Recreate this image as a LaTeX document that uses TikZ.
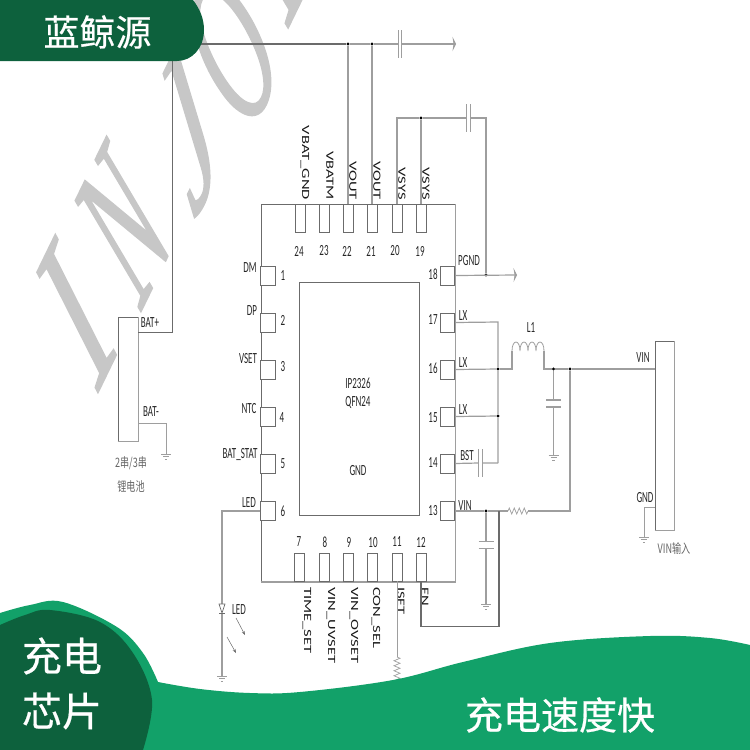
\documentclass[tikz,border=0pt]{standalone}
\usepackage{fontspec}
\usetikzlibrary{arrows.meta, decorations.pathmorphing}
\setmainfont{Carlito}
\newfontfamily\flatfont[FakeStretch=0.58]{Carlito}
\newfontfamily\longfont[FakeStretch=1.5]{Carlito}
\newfontfamily\markfont[ItalicFeatures={FakeBold=1.2}]{Liberation Serif}
\newfontfamily\cjk[FakeBold=0.5]{Noto Sans CJK SC}
\newfontfamily\cjksmall[FakeStretch=0.7]{Noto Sans CJK SC}
\definecolor{wiregray}{rgb}{0.62,0.62,0.62}
\definecolor{darkwire}{rgb}{0.42,0.42,0.42}
\definecolor{markgray}{rgb}{0.78,0.78,0.78}
\definecolor{midgreen}{rgb}{0.07,0.63,0.41}
\definecolor{deepgreen}{rgb}{0.05,0.38,0.24}
\tikzset{
    x=1pt, y=-1pt, % Same numbers as the pixels
    >=stealth,
    wire/.style={draw=wiregray, line width=1.2pt},
    box/.style={draw=darkwire, line width=0.8pt, fill=white, inner sep=0pt},
    edging/.style={draw=wiregray, line width=1.8pt},
    toppin/.style={box, minimum width=10pt, minimum height=28pt},
    sidepin/.style={box, minimum width=14.5pt, minimum height=19pt},
    junction/.style={circle, fill=black, inner sep=0pt, minimum size=3.2pt},
    pinname/.style={inner sep=0pt, text=black!85, font=\flatfont\fontsize{15.5}{15.5}\selectfont},
    pinup/.style={inner sep=0pt, anchor=east, rotate=-90, text=black!90, font=\longfont\fontsize{11}{11}\selectfont},
    pindown/.style={inner sep=0pt, anchor=west, rotate=-90, text=black!90, font=\longfont\fontsize{11}{11}\selectfont},
    zh/.style={inner sep=0pt, text=black!60, font=\cjksmall\fontsize{13}{13}\selectfont},
    title/.style={inner sep=0pt, text=white, font=\cjk\fontsize{36}{36}\selectfont},
    wmark/.style={inner sep=0pt, anchor=base west, text=markgray, transform shape,
        cm={#1,(0,0)}, font=\markfont\itshape\fontsize{100}{100}\selectfont},
    wmark/.default={0.52,1.07,-1.09,1.50},
    zigzag/.style={wire, line width=0.7pt, decorate, decoration={zigzag, segment length=5pt, amplitude=3pt}},
    gnd/.pic={
        \draw[wire, line width=0.7pt] (-5,0) -- (5,0) (-3,2.5) -- (3,2.5) (-1.2,5) -- (1.2,5);
    },
    platesv/.pic={
        \draw[wire, line width=1.2pt] (-1.8,-14) -- (-1.8,14) (1.8,-14) -- (1.8,14);
    },
    platesh/.pic={
        \draw[wire, line width=1.2pt] (-7.5,-3.5) -- (7.5,-3.5) (-7.5,3.5) -- (7.5,3.5);
    },
}

\begin{document}
\begin{tikzpicture}
    \useasboundingbox (0,0) rectangle (750,750);
    \clip (0,0) rectangle (750,750);

    % watermark
    \node[wmark={0.70,1.44,-1.05,1.58}] (wmI) at (98,392) {I};
    \node[wmark] (wmN) at (141,311) {N};
    \node[wmark={0.73,1.50,-0.73,1.73}] (wmJ) at (194,222) {J};
    \node[wmark] (wmO) at (248,138) {O};
    \node[wmark] (wmY) at (283,38) {Y};

    % chip
    \node[box, minimum width=194pt, minimum height=377pt] (chip) at (358,393) {};
    \draw[edging] (chip.south west) -- (chip.south east) -- (chip.north east);
    \node[box, minimum width=120pt, minimum height=233pt] (pad) at (359,399) {};
    \node[pinname] (padA) at (358,383) {IP2326};
    \node[pinname] (padB) at (358,402) {QFN24};
    \node[pinname] (padC) at (358,471) {GND};

    % top pins
    \node[toppin] (p24) at (300,218) {};
    \node[toppin] (p23) at (324,218) {};
    \node[toppin] (p22) at (348,218) {};
    \node[toppin] (p21) at (372,218) {};
    \node[toppin] (p20) at (397,218) {};
    \node[toppin] (p19) at (421,218) {};
    \node[pinname] (n24) at (299,251) {24};
    \node[pinname] (n23) at (324,251) {23};
    \node[pinname] (n22) at (347,251) {22};
    \node[pinname] (n21) at (371,251) {21};
    \node[pinname] (n20) at (395,251) {20};
    \node[pinname] (n19) at (420,251) {19};
    \node[pinup] (t24) at (305,200) {VBAT\_GND};
    \node[pinup] (t23) at (330,200) {VBATM};
    \node[pinup] (t22) at (353,200) {VOUT};
    \node[pinup] (t21) at (377,200) {VOUT};
    \node[pinup] (t20) at (402,200) {VSYS};
    \node[pinup] (t19) at (426,200) {VSYS};

    % left pins
    \node[sidepin] (p1) at (268,275.5) {};
    \node[sidepin] (p2) at (268,322.5) {};
    \node[sidepin] (p3) at (268,369.5) {};
    \node[sidepin] (p4) at (268,416.5) {};
    \node[sidepin] (p5) at (268,463.5) {};
    \node[sidepin] (p6) at (268,511) {};
    \node[pinname] (n1) at (283,276) {1};
    \node[pinname] (n2) at (283,320) {2};
    \node[pinname] (n3) at (283,367) {3};
    \node[pinname] (n4) at (282,418) {4};
    \node[pinname] (n5) at (283,464) {5};
    \node[pinname] (n6) at (283,511) {6};
    \node[pinname] (t1) at (250,268) {DM};
    \node[pinname] (t2) at (252,311) {DP};
    \node[pinname] (t3) at (248,359) {VSET};
    \node[pinname] (t4) at (249,409) {NTC};
    \node[pinname] (t5) at (240,455) {BAT\_STAT};
    \node[pinname] (t6) at (249,503) {LED};

    % bottom pins
    \node[toppin] (p7) at (299,567) {};
    \node[toppin] (p8) at (324,567) {};
    \node[toppin] (p9) at (348,567) {};
    \node[toppin] (p10) at (372,567) {};
    \node[toppin] (p11) at (397,567) {};
    \node[toppin] (p12) at (421,567) {};
    \node[pinname] (n7) at (299,542) {7};
    \node[pinname] (n8) at (325,542) {8};
    \node[pinname] (n9) at (349,542) {9};
    \node[pinname] (n10) at (373,543) {10};
    \node[pinname] (n11) at (397,542) {11};
    \node[pinname] (n12) at (421,542) {12};
    \node[pindown] (t7) at (307,587) {TIME\_SET};
    \node[pindown] (t8) at (331,587) {VIN\_UVSET};
    \node[pindown] (t9) at (354,587) {VIN\_OVSET};
    \node[pindown] (t10) at (376,587) {CON\_SEL};
    \node[pindown] (t11) at (401,587) {ISET};
    \node[pindown] (t12) at (425,587) {EN};

    % right pins
    \node[sidepin] (p18) at (447.5,275.5) {};
    \node[sidepin] (p17) at (447.5,322.5) {};
    \node[sidepin] (p16) at (447.5,369.5) {};
    \node[sidepin] (p15) at (447.5,416.5) {};
    \node[sidepin] (p14) at (447.5,463.5) {};
    \node[sidepin] (p13) at (447.5,511) {};
    \node[pinname] (n18) at (433,274) {18};
    \node[pinname] (n17) at (433,320) {17};
    \node[pinname] (n16) at (433,368) {16};
    \node[pinname] (n15) at (433,418) {15};
    \node[pinname] (n14) at (433,463) {14};
    \node[pinname] (n13) at (433,511) {13};
    \node[pinname] (t18) at (469,261) {PGND};
    \node[pinname] (t17) at (463,316) {LX};
    \node[pinname] (t16) at (463,363) {LX};
    \node[pinname] (t15) at (463,410) {LX};
    \node[pinname] (t14) at (467,456) {BST};
    \node[pinname] (t13) at (465,506) {VIN};

    % battery and input connector
    \node[box, minimum width=20pt, minimum height=124pt] (batt) at (128,379) {};
    \draw[edging] (batt.south west) -- (batt.south east) -- (batt.north east);
    \node[box, minimum width=19pt, minimum height=189pt] (input) at (664.5,435.5) {};
    \draw[edging] (input.south west) -- (input.south east) -- (input.north east);
    \node[pinname] (battP) at (150,323) {BAT+};
    \node[pinname] (battN) at (151,412) {BAT-};
    \node[zh] (battA) at (131,463) {2串/3串};
    \node[zh] (battB) at (131,487) {锂电池};
    \node[pinname] (inV) at (643,358) {VIN};
    \node[pinname] (inG) at (645,498) {GND};
    \node[zh] (inT) at (674,549) {VIN输入};
    \node[pinname] (l1) at (531,328) {L1};
    \node[pinname] (ledT) at (239,610) {LED};

    % junctions and free ends
    \node[junction] (j22) at (348,44) {};
    \node[junction] (j21) at (372,44) {};
    \node[junction] (j19) at (421,118) {};
    \node[junction] (j18) at (486,275) {};
    \node[junction] (j16) at (498,369) {};
    \node[junction] (j15) at (498,416) {};
    \node[junction] (jc) at (553.5,369) {};
    \node[junction] (jv) at (570,369) {};
    \node[junction] (j13) at (486,511) {};
    \coordinate (busL) at (172,44);
    \coordinate (busR) at (456,44);
    \coordinate (capAl) at (398,44);
    \coordinate (capAr) at (402,44);
    \coordinate (capBl) at (466.5,118);
    \coordinate (capBr) at (470.5,118);
    \coordinate (pgndEnd) at (517,275);
    \coordinate (lxTop) at (498,322);
    \coordinate (bstEnd) at (498,463);
    \coordinate (capCl) at (478.5,463);
    \coordinate (capCr) at (482.5,463);
    \coordinate (indL) at (512,351);
    \coordinate (indR) at (544,351);
    \coordinate (capDt) at (553.5,400);
    \coordinate (capDb) at (553.5,407);
    \coordinate (gndD) at (553.5,455);
    \coordinate (gndB) at (166,454);
    \coordinate (gndI) at (644,537);
    \coordinate (resAl) at (508,511);
    \coordinate (resAr) at (528,511);
    \coordinate (capEt) at (486,541.5);
    \coordinate (capEb) at (486,549);
    \coordinate (gndE) at (486,604);
    \coordinate (enCorner) at (499,626.5);
    \coordinate (enTop) at (499,511);
    \coordinate (resBt) at (397,657);
    \coordinate (resBb) at (397,692);
    \coordinate (ledA) at (222,604);
    \coordinate (ledB) at (222,613);
    \coordinate (gndL) at (222,676);
    \coordinate (arAa) at (236,618);
    \coordinate (arAb) at (245,635);
    \coordinate (arBa) at (227,637);
    \coordinate (arBb) at (236,653);

    % wires on top
    \draw[wire, draw=darkwire] (busL) -- (j22);
    \draw[wire] (j22) -- (j21) -- (capAl);
    \draw[wire, -{Stealth[length=3.5pt, width=14pt]}] (capAr) -- (busR);
    \draw[wire, draw=darkwire, line width=0.8pt] (busL) |- (batt.east |- 0,332);
    \draw[wire] (j22) -- (p22.north);
    \draw[wire] (j21) -- (p21.north);
    \draw[wire] (p20.north) |- (j19);
    \draw[wire] (j19) -- (p19.north);
    \draw[wire] (j19) -- (capBl);
    \draw[wire] (capBr) -| (j18);
    \pic at (400,44) {platesv};
    \pic at (468.5,118) {platesv};

    % right side wires
    \draw[wire, -{Stealth[length=3.5pt, width=14pt]}] (p18.east) -- (pgndEnd);
    \draw[wire] (p17.east) -- (lxTop) -- (j16) -- (j15) -- (bstEnd);
    \draw[wire] (p16.east) -- (j16);
    \draw[wire] (p15.east) -- (j15);
    \draw[wire] (p14.east) -- (capCl) (capCr) -- (bstEnd);
    \pic at (480.5,463) {platesv};
    \draw[wire] (j16) -| (indL);
    \draw[wire, line width=0.8pt] (indL) .. controls (512,339) and (520,339) .. (520,351)
        .. controls (520,339) and (528,339) .. (528,351)
        .. controls (528,339) and (536,339) .. (536,351)
        .. controls (536,339) and (544,339) .. (indR);
    \draw[wire] (indR) |- (jc);
    \draw[wire] (jc) -- (jv) -- (input.west |- jv);
    \draw[wire] (jc) -- (capDt) (capDb) -- (gndD);
    \pic at (553.5,403.5) {platesh};
    \pic at (gndD) {gnd};
    \draw[wire] (jv) |- (resAr);
    \draw[zigzag] (resAl) -- (resAr);
    \draw[wire] (p13.east) -- (j13) -- (resAl);
    \draw[wire] (j13) -- (capEt) (capEb) -- (gndE);
    \pic at (486,545.25) {platesh};
    \pic at (gndE) {gnd};
    \draw[wire, draw=darkwire] (enTop) -- (enCorner) -| (p12.south);

    % battery, input and led wires
    \draw[wire, line width=0.8pt] (batt.east |- 0,423) -| (gndB);
    \pic at (gndB) {gnd};
    \draw[wire, line width=0.8pt] (input.west |- 0,507) -| (gndI);
    \pic at (gndI) {gnd};
    \draw[wire, line width=0.8pt] (p11.south) -- (resBt);
    \draw[zigzag] (resBt) -- (resBb);
    \draw[wire] (p6.west) -| (ledA);
    \draw[wire] (ledB) -- (gndL);
    \draw[wire, draw=darkwire, fill=white, line width=0.7pt] (219,604) -- (225,604) -- (ledB) -- cycle;
    \draw[wire, draw=darkwire, line width=0.7pt] (219,613) -- (225,613);
    \pic at (gndL) {gnd};
    \draw[darkwire, line width=0.5pt, -{Stealth[length=4pt, width=3pt]}] (arAa) -- (arAb);
    \draw[darkwire, line width=0.5pt, -{Stealth[length=4pt, width=3pt]}] (arBa) -- (arBb);

    % corner shapes
    \fill[deepgreen] (0,0) -- (193,0) .. controls (200,9) and (204,19) .. (204,30)
        .. controls (204,48) and (192,61) .. (177,61) -- (0,61) -- cycle;
    \fill[midgreen] plot[smooth, tension=0.6] coordinates {(0,613) (30,605) (63,602) (117,627) (143,653) (158,682)}
        -- plot[smooth, tension=0.6] coordinates {(158,682) (200,689) (250,693) (300,692) (393,680) (463,662) (550,643) (650,636) (710,638) (750,645)}
        -- (750,750) -- (0,750) -- cycle;
    \fill[deepgreen] plot[smooth, tension=0.6] coordinates {(0,625) (25,615) (50,610) (100,622) (133,653) (152,700) (143,750)}
        -- (0,750) -- cycle;

    % corner texts
    \node[title] (brand) at (97.5,32) {蓝鲸源};
    \node[title, font=\cjk\fontsize{40}{40}\selectfont] (topicA) at (62,656) {充电};
    \node[title, font=\cjk\fontsize{40}{40}\selectfont] (topicB) at (62,711) {芯片};
    \node[title, font=\cjk\fontsize{38}{38}\selectfont] (claim) at (560,715) {充电速度快};
\end{tikzpicture}
\end{document}
